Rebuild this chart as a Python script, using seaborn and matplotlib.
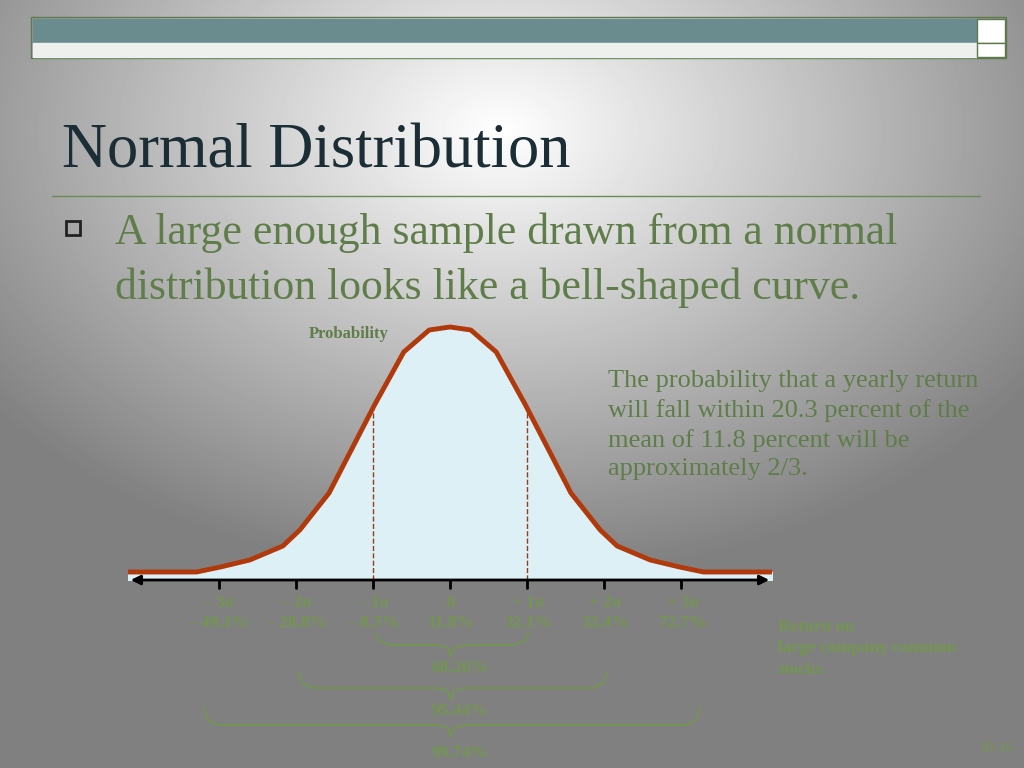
import numpy as np
import matplotlib
matplotlib.use("Agg")
import matplotlib.pyplot as plt
import seaborn as sns
from matplotlib.patches import Rectangle

sns.set_theme(style="white")
plt.rcParams['font.family'] = ['Liberation Serif', 'DejaVu Serif']

# curve: sigma position -> height above axis (px)
sigma_pts = [-4.18, -3.29, -2.98, -2.6, -2.17, -1.95, -1.57, -0.98, -0.6, -0.27, 0.0,
             0.27, 0.6, 0.98, 1.57, 1.95, 2.17, 2.6, 2.98, 3.29, 4.18]
height_pts = [8, 8, 13, 20, 34, 50, 87, 175, 228, 250, 253,
              250, 228, 175, 87, 50, 34, 20, 13, 8, 8]
sigma_labels = ["\u2013 3\u03c3", "\u2013 2\u03c3", "\u2013 1\u03c3", "0", "+ 1\u03c3", "+ 2\u03c3", "+ 3\u03c3"]
return_labels = ["\u2013 49.1%", "\u2013 28.8%", "\u2013 8.5%", "11.8%", "32.1%", "52.4%", "72.7%"]
ranges = [(1, "68.26%"), (2, "95.44%"), (3, "99.74%")]

W, H = 1024, 768
fig = plt.figure(figsize=(10.24, 7.68), dpi=100)

# background gradient
bg = fig.add_axes([0, 0, 1, 1])
yy, xx = np.mgrid[0:H, 0:W]
r = np.sqrt(((xx - 500) / 650.0) ** 2 + ((yy - 130) / 450.0) ** 2)
val = np.clip(1.0 - 0.5 * r, 0.5, 1.0)
bg.imshow(val, cmap="gray", vmin=0, vmax=1, extent=[0, W, H, 0], aspect="auto")
bg.set_xlim(0, W)
bg.set_ylim(H, 0)
bg.axis("off")

# header bar
bg.add_patch(Rectangle((31, 17), 975, 41, fill=False, ec="#5e7a4c", lw=1))
bg.add_patch(Rectangle((33, 19), 944, 24, color="#6a8c8f"))
bg.add_patch(Rectangle((33, 43), 944, 14, color="#eef0ee"))
bg.add_patch(Rectangle((977, 19), 28, 24, color="white", ec="#5e7a4c", lw=1))
bg.add_patch(Rectangle((977, 43), 28, 14, color="white", ec="#5e7a4c", lw=1))

bg.text(62, 152, "Normal Distribution", fontsize=45, color="#1b2e35", va="center")
bg.plot([52, 980], [196, 196], color="#6b8a55", lw=1)
bg.add_patch(Rectangle((66, 221), 14, 14, fill=False, ec="#222222", lw=2))
green = "#5f7d49"
bg.text(115, 233, "A large enough sample drawn from a normal", fontsize=31.5, color=green, va="center")
bg.text(115, 288, "distribution looks like a bell-shaped curve.", fontsize=31.5, color=green, va="center")
bg.text(608, 370, "The probability that a yearly return\nwill fall within 20.3 percent of the\n"
        "mean of 11.8 percent will be\napproximately 2/3.", fontsize=19, color=green,
        va="top", linespacing=1.38)
bg.text(309, 334, "Probability", fontsize=12, color=green, weight="bold", va="center")

faint = "#72964f"
x0, sig = 451, 77.3
for i, (s, rl) in enumerate(zip(sigma_labels, return_labels)):
    px = x0 + (i - 3) * sig
    bg.text(px, 603, s, fontsize=12.5, color=faint, ha="center", va="center", weight="bold")
    bg.text(px, 623, rl, fontsize=12.5, color=faint, ha="center", va="center", weight="bold")
bg.text(778, 619, "Return on\nlarge company common\nstocks", fontsize=12.5, color=faint,
        weight="bold", va="top", linespacing=1.45)
bg.text(1014, 749, "10-16", fontsize=11, color=faint, ha="right", va="center")

# braces: (left, right, top y, bottom y, label y)
brace_geom = [(375, 529, 633, 645, 668), (298, 607, 672, 688, 711), (204, 700, 708, 725, 753)]
for (k, label), (xl, xr, yt, yb, yl) in zip(ranges, brace_geom):
    xs = [xl, xl + 4, xl + 14, x0 - 14, x0 - 3, x0, x0 + 3, x0 + 14, xr - 14, xr - 4, xr]
    ys = [yt, yb - 5, yb, yb, yb + 3, yb + 12, yb + 3, yb, yb, yb - 5, yt]
    bg.plot(xs, ys, color=faint, lw=1.3)
    bg.text(x0 + 9, yl, label, fontsize=12.5, color=faint, ha="center", va="center", weight="bold")

# curve axes
ax = fig.add_axes([128 / W, (H - 580) / H, 644 / W, 260 / H])
ax.set_xlim(-4.18, 4.18)
ax.set_ylim(0, 260)
ax.fill_between(sigma_pts, height_pts, 0, color="#dcf0f6", zorder=1)
sns.lineplot(x=sigma_pts, y=height_pts, ax=ax, color="#b03a0c", lw=3.5, zorder=3)
ax.plot([-1, -1], [0, 175], color="#9a3a1a", ls="--", lw=1)
ax.plot([1, 1], [0, 175], color="#9a3a1a", ls="--", lw=1)
ax.annotate("", xy=(-4.18, 0), xytext=(4.18, 0),
            arrowprops=dict(arrowstyle="<|-|>", color="black", lw=2, mutation_scale=14),
            annotation_clip=False)
for t in range(-3, 4):
    ax.plot([t, t], [-8, 0], color="black", lw=2, clip_on=False)
ax.axis("off")
ax.patch.set_alpha(0)

fig.savefig("out.png", dpi=100)
